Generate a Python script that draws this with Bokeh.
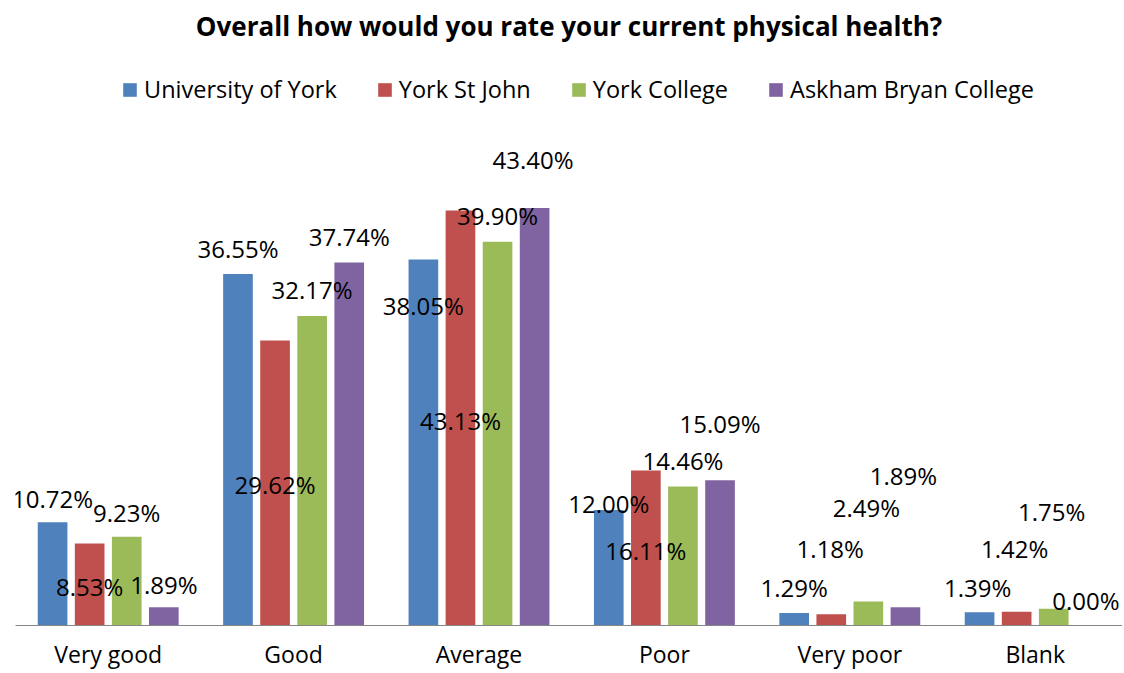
from bokeh.plotting import figure
from bokeh.models import Range1d, FixedTicker, Legend, LegendItem, ColumnDataSource, Title
from bokeh.core.properties import value
from bokeh.embed import file_html
from bokeh.resources import INLINE

# ---------------- data ----------------
categories = ["Very good", "Good", "Average", "Poor", "Very poor", "Blank"]
series_names = ["University of York", "York St John", "York College", "Askham Bryan College"]
university_of_york = [10.72, 36.55, 38.05, 12.00, 1.29, 1.39]
york_st_john = [8.53, 29.62, 43.13, 16.11, 1.18, 1.42]
york_college = [9.23, 32.17, 39.90, 14.46, 2.49, 1.75]
askham_bryan = [1.89, 37.74, 43.40, 15.09, 1.89, 0.00]
series_values = [university_of_york, york_st_john, york_college, askham_bryan]
title_text = "Overall how would you rate your current physical health?"

# ---------------- styles / layout ----------------
colors = ["#4F81BD", "#C0504D", "#9BBB59", "#8064A2"]
bar_offsets = [-0.3, -0.1, 0.1, 0.3]
bar_width = 0.16
# data-label displacement in screen px relative to the bar top centre (+y = down)
label_dy = [
    [-24, -25.5, 46, -7, -26, -24.6],
    [43, 144, 210, 80, -65.5, -63],
    [-24, -27, -26, -26, -94, -97],
    [-23, -25.6, -48.5, -57, -132, -25.5],
]
label_dx = [
    [0, 0, 0, 0, 0, -2],
    [0, 0, 0, 0, -1, -2],
    [0, 0, 0, 0, -2, -2],
    [0, 0, -1.5, 0, -2, -5],
]
FONT = "Open Sans"
TEXT = "#000000"

FRAME_W = 1107
FRAME_H = 577
PX_PER_PCT = 9.62
CAT_PX = 185.4

p = figure(
    frame_width=FRAME_W, frame_height=FRAME_H,
    x_range=Range1d(-0.5, -0.5 + FRAME_W / CAT_PX),
    y_range=Range1d(0, FRAME_H / PX_PER_PCT),
    output_backend="svg", toolbar_location=None,
    min_border_left=15, min_border_right=0, min_border_top=0, min_border_bottom=0,
    outline_line_color=None, background_fill_color="white", border_fill_color="white",
)
p.title = Title(text=title_text, align="center", text_font=FONT, text_font_size="26px",
                text_font_style="bold", text_color=TEXT, standoff=10)
p.grid.visible = False
p.yaxis.visible = False

sources = []
legend_items = []
for k, (name, vals) in enumerate(zip(series_names, series_values)):
    src = ColumnDataSource(dict(
        x=[i + bar_offsets[k] for i in range(len(categories))],
        top=vals,
        lab=["%.2f%%" % v for v in vals],
        dy=label_dy[k],
        dx=label_dx[k],
    ))
    sources.append(src)
    r = p.vbar(x="x", top="top", bottom=0, width=bar_width, source=src,
               fill_color=colors[k], line_color=None)
    legend_items.append(LegendItem(label=name, renderers=[r]))

# labels drawn after all bars so they sit on top
for src in sources:
    p.text(x="x", y="top", text="lab", x_offset="dx", y_offset="dy", source=src,
           text_align="center", text_baseline="middle",
           text_font=value(FONT), text_font_size="24px", text_color=TEXT)

ax = p.xaxis[0]
ax.ticker = FixedTicker(ticks=list(range(len(categories))))
ax.major_label_overrides = {i: c for i, c in enumerate(categories)}
ax.major_label_text_font = FONT
ax.major_label_text_font_size = "23px"
ax.major_label_text_color = TEXT
ax.major_label_standoff = 12
ax.axis_line_color = "#868686"
ax.axis_line_width = 1
ax.major_tick_line_color = None
ax.minor_tick_line_color = None
ax.major_tick_out = 0
ax.major_tick_in = 0

legend = Legend(items=legend_items, orientation="horizontal",
                location=(106, FRAME_H - 57),
                glyph_width=17, glyph_height=17, label_standoff=6, spacing=39,
                padding=0, margin=0, border_line_color=None, background_fill_alpha=0,
                label_text_font=FONT, label_text_font_size="23.5px", label_text_color=TEXT)
p.add_layout(legend, "center")

open("out.html", "w").write(file_html(p, INLINE))
